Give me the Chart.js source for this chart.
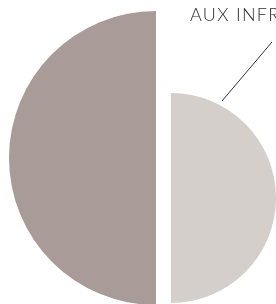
<!DOCTYPE html>
<html>
<head>
<meta charset="utf-8">
<script src="https://cdn.jsdelivr.net/npm/chart.js@4/dist/chart.umd.min.js"></script>
<style>
  html, body { margin: 0; padding: 0; width: 276px; height: 304px; overflow: hidden; background: #ffffff; }
  canvas { position: absolute; display: block; }
  #label { position: absolute; left: 190px; top: 4px; font-family: Lato, "Open Sans", sans-serif; font-weight: 300; font-size: 18px; line-height: 20px; color: #2e2e2e; white-space: nowrap; letter-spacing: 1.3px; }
  #leader { position: absolute; left: 0; top: 0; }
</style>
</head>
<body>
<canvas id="left" width="147" height="294" style="left:9px;top:11px"></canvas>
<canvas id="right" width="105" height="210" style="left:171px;top:93px"></canvas>
<svg id="leader" width="276" height="304"><line x1="222" y1="101" x2="272" y2="42" stroke="#333" stroke-width="1"/></svg>
<div id="label"></div>
<script>
const categories = ["TOTAL", "AUX INFRASTRUCTURES"];
const values = [100, 51];
const colors = ["#a89b98", "#d5cfcc"];

document.getElementById('label').textContent = categories[1];

function halfPie(id, idx, rotation) {
  new Chart(document.getElementById(id), {
    type: 'pie',
    data: {
      labels: [categories[idx]],
      datasets: [{ data: [values[idx]], backgroundColor: [colors[idx]], borderWidth: 0 }]
    },
    options: {
      responsive: false,
      animation: false,
      devicePixelRatio: 1,
      rotation: rotation,
      circumference: 180,
      layout: { padding: 0 },
      plugins: { legend: { display: false }, tooltip: { enabled: false } }
    }
  });
}
halfPie('left', 0, 180);
halfPie('right', 1, 0);
</script>
</body>
</html>
